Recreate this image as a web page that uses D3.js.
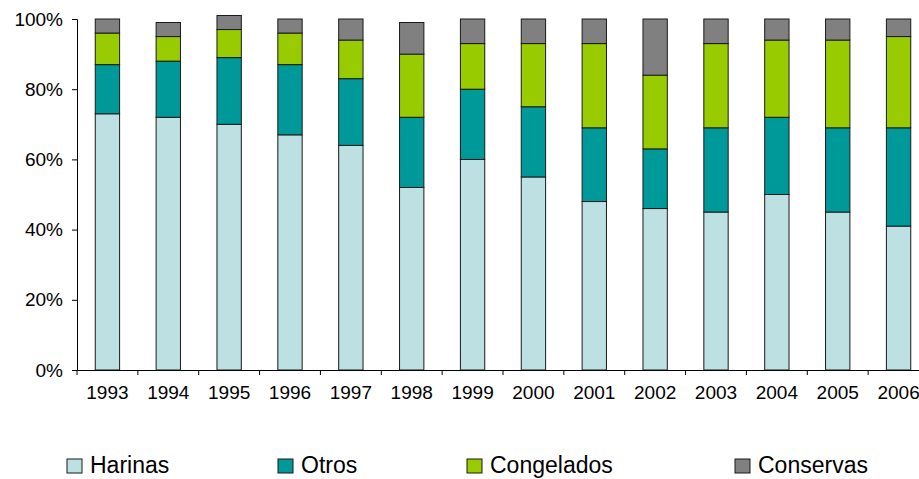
<!DOCTYPE html>
<html>
<head>
<meta charset="utf-8">
<script src="https://cdn.jsdelivr.net/npm/d3@7"></script>
<style>
  html, body { margin: 0; padding: 0; background: #fff; }
  svg { display: block; font-family: "Liberation Sans", Arial, sans-serif; }
</style>
</head>
<body>
<svg id="chart" width="919" height="479"></svg>
<script>
const years = ["1993","1994","1995","1996","1997","1998","1999","2000","2001","2002","2003","2004","2005","2006"];
const seriesNames = ["Harinas","Otros","Congelados","Conservas"];
const harinas    = [73, 72, 70, 67, 64, 52, 60, 55, 48, 46, 45, 50, 45, 41];
const otros      = [14, 16, 19, 20, 19, 20, 20, 20, 21, 17, 24, 22, 24, 28];
const congelados = [ 9,  7,  8,  9, 11, 18, 13, 18, 24, 21, 24, 22, 25, 26];
const conservas  = [ 4,  4,  4,  4,  6,  9,  7,  7,  7, 16,  7,  6,  6,  5];
const yTicks = [0, 20, 40, 60, 80, 100];
const colors = ["#BDE0E3", "#009999", "#99CC00", "#808080"];

const svg = d3.select("#chart");
const rows = years.map((y, i) => ({
  year: y,
  Harinas: harinas[i], Otros: otros[i], Congelados: congelados[i], Conservas: conservas[i]
}));
const stack = d3.stack().keys(seriesNames)(rows);

const x = d3.scaleBand().domain(years).range([77, 929]).paddingInner(0.6).paddingOuter(0.3);
const y = d3.scaleLinear().domain([0, 100]).range([370, 19]);
const color = d3.scaleOrdinal().domain(seriesNames).range(colors);

// bars
svg.append("g").selectAll("g").data(stack).join("g")
  .attr("fill", d => color(d.key))
  .selectAll("rect").data(d => d).join("rect")
  .attr("x", d => x(d.data.year))
  .attr("width", x.bandwidth())
  .attr("y", d => y(d[1]))
  .attr("height", d => y(d[0]) - y(d[1]))
  .attr("stroke", "#1a1a1a")
  .attr("stroke-width", 1);

// y axis
const yAxis = svg.append("g").attr("transform", "translate(77,0)")
  .call(d3.axisLeft(y).tickValues(yTicks).tickFormat(d => d + "%").tickSize(5).tickPadding(9));
yAxis.select(".domain").attr("stroke", "#000");
yAxis.selectAll(".tick line").attr("stroke", "#000");
yAxis.selectAll("text").attr("font-size", 19).attr("fill", "#000")
  .attr("font-family", "'Liberation Sans', Arial, sans-serif");

// x axis
const xAxis = svg.append("g").attr("transform", "translate(0,370)")
  .call(d3.axisBottom(x).tickSize(0).tickPadding(16));
xAxis.select(".domain").attr("stroke", "#000");
xAxis.selectAll("text").attr("font-size", 19).attr("fill", "#000")
  .attr("font-family", "'Liberation Sans', Arial, sans-serif");
// tick marks at category boundaries
const step = x.step();
const boundaries = d3.range(years.length + 1).map(i => x(years[0]) - x.paddingOuter() * step + i * step);
svg.append("g").selectAll("line").data(boundaries).join("line")
  .attr("x1", d => d).attr("x2", d => d)
  .attr("y1", 370).attr("y2", 375)
  .attr("stroke", "#000");

// legend
const legendX = [67, 278, 467, 735];
const lg = svg.append("g").selectAll("g").data(seriesNames).join("g")
  .attr("transform", (d, i) => `translate(${legendX[i]},459)`);
lg.append("rect").attr("width", 15).attr("height", 14)
  .attr("fill", d => color(d)).attr("stroke", "#1a1a1a").attr("stroke-width", 1);
lg.append("text").attr("x", 23).attr("y", 14)
  .attr("font-size", 23).attr("fill", "#000")
  .text(d => d);
</script>
</body>
</html>
